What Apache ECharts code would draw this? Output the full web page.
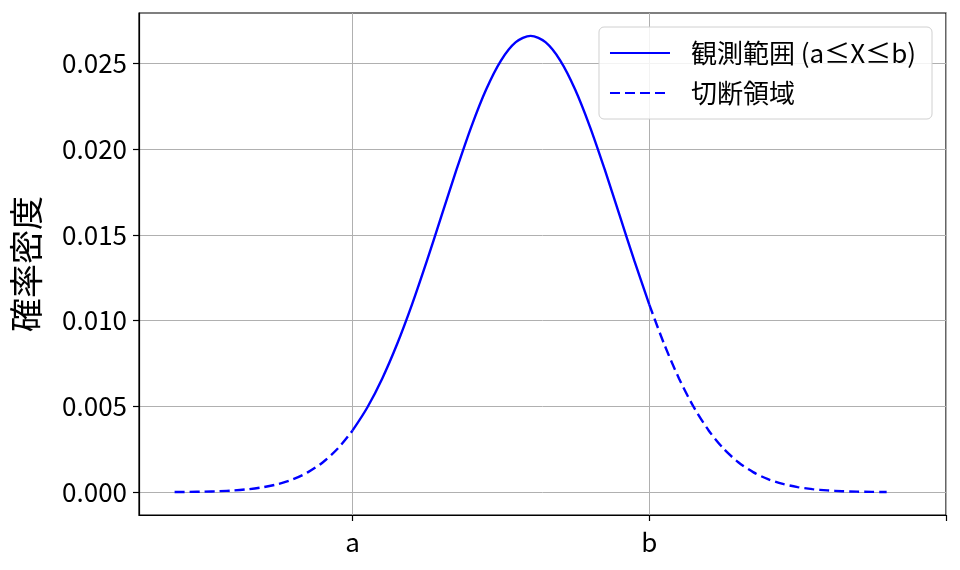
<!DOCTYPE html>
<html>
<head>
<meta charset="utf-8">
<script src="https://cdn.jsdelivr.net/npm/echarts@6/dist/echarts.min.js"></script>
<style>
html,body{margin:0;padding:0;background:#fff;}
#chart{width:960px;height:570px;}
</style>
</head>
<body>
<div id="chart"></div>
<script>
const xValues = [40, 42.5, 45, 47.5, 50, 52.5, 55, 57.5, 60, 62.5, 65, 67.5, 70, 72.5, 75, 77.5, 80, 82.5, 85, 87.5, 90, 92.5, 95, 97.5, 100,
  102.5, 105, 107.5, 110, 112.5, 115, 117.5, 120, 122.5, 125, 127.5, 130, 132.5, 135, 137.5, 140, 142.5, 145, 147.5, 150, 152.5, 155, 157.5, 160];
const density = [0.0000089, 0.0000171, 0.0000320, 0.0000582, 0.0001028, 0.0001768, 0.0002955, 0.0004805, 0.0007597, 0.0011686, 0.0017481, 0.0025434,
  0.0035994, 0.0049521, 0.0066318, 0.0086345, 0.0109340, 0.0134665, 0.0161314, 0.0187940, 0.0212964, 0.0234709, 0.0251587, 0.0262292, 0.0265962,
  0.0262292, 0.0251587, 0.0234709, 0.0212964, 0.0187940, 0.0161314, 0.0134665, 0.0109340, 0.0086345, 0.0066318, 0.0049521, 0.0035994,
  0.0025434, 0.0017481, 0.0011686, 0.0007597, 0.0004805, 0.0002955, 0.0001768, 0.0001028, 0.0000582, 0.0000320, 0.0000171, 0.0000089];
const lowerBound = 70;   // a
const upperBound = 120;  // b
const xTickValues = [70, 120, 170];
const xTickLabels = ['a', 'b', ''];
const yTickValues = [0, 0.005, 0.010, 0.015, 0.020, 0.025];
const seriesNames = ['観測範囲 (a≤X≤b)', '切断領域'];
const yAxisTitle = '確率密度';

const pts = xValues.map((x, i) => [x, density[i]]);
const inside = pts.filter(p => p[0] >= lowerBound && p[0] <= upperBound);
const leftTail = pts.filter(p => p[0] <= lowerBound);
const rightTail = pts.filter(p => p[0] >= upperBound);

const FONT = '"Noto Sans CJK JP", "Noto Sans", sans-serif';
const chart = echarts.init(document.getElementById('chart'), null, {renderer: 'canvas'});
const dashLine = {color: '#0000ff', width: 2.4, type: [10, 5]};
chart.setOption({
  animation: false,
  backgroundColor: '#fff',
  textStyle: {fontFamily: FONT},
  grid: {left: 139, right: 14, top: 13, bottom: 55, show: true, borderColor: '#000', borderWidth: 1.2, containLabel: false},
  legend: {
    orient: 'vertical', right: 28, top: 27,
    data: seriesNames,
    backgroundColor: 'rgba(255,255,255,0.85)',
    borderColor: '#d0d0d0', borderWidth: 1, borderRadius: 5,
    padding: [13, 16, 13, 10],
    itemWidth: 60, itemHeight: 14, itemGap: 14,
    itemStyle: {opacity: 0},
    textStyle: {fontFamily: FONT, fontSize: 26, color: '#000', padding: [0, 0, 0, 16]}
  },
  xAxis: {
    type: 'value', min: 34, max: 170,
    axisLine: {show: true, onZero: false, lineStyle: {color: '#000', width: 1.2}},
    axisTick: {show: true, inside: false, length: 6, customValues: xTickValues, lineStyle: {color: '#000', width: 1.2}},
    axisLabel: {customValues: xTickValues, margin: 14, fontFamily: FONT, fontSize: 26, color: '#000',
      formatter: v => { const i = xTickValues.indexOf(v); return i >= 0 ? xTickLabels[i] : ''; }},
    splitLine: {show: true, lineStyle: {color: '#b0b0b0', width: 1}}
  },
  yAxis: {
    type: 'value', min: -0.00133, max: 0.02793,
    name: yAxisTitle, nameLocation: 'middle', nameGap: 96,
    nameTextStyle: {fontFamily: FONT, fontSize: 34, color: '#000'},
    axisLine: {show: true, onZero: false, lineStyle: {color: '#000', width: 1.2}},
    axisTick: {show: true, inside: false, length: 6, customValues: yTickValues, lineStyle: {color: '#000', width: 1.2}},
    axisLabel: {customValues: yTickValues, margin: 12, fontFamily: FONT, fontSize: 26, color: '#000',
      formatter: v => v.toFixed(3)},
    splitLine: {show: true, lineStyle: {color: '#b0b0b0', width: 1}}
  },
  series: [
    {name: seriesNames[0], type: 'line', data: inside, symbol: 'none', smooth: 0.3,
      lineStyle: {color: '#0000ff', width: 2.4}, itemStyle: {color: '#0000ff'}, z: 3},
    {name: seriesNames[1], type: 'line', data: leftTail, symbol: 'none', smooth: 0.3,
      lineStyle: dashLine, itemStyle: {color: '#0000ff'}, z: 3},
    {name: seriesNames[1], type: 'line', data: rightTail, symbol: 'none', smooth: 0.3,
      lineStyle: dashLine, itemStyle: {color: '#0000ff'}, z: 3}
  ]
});
</script>
</body>
</html>
